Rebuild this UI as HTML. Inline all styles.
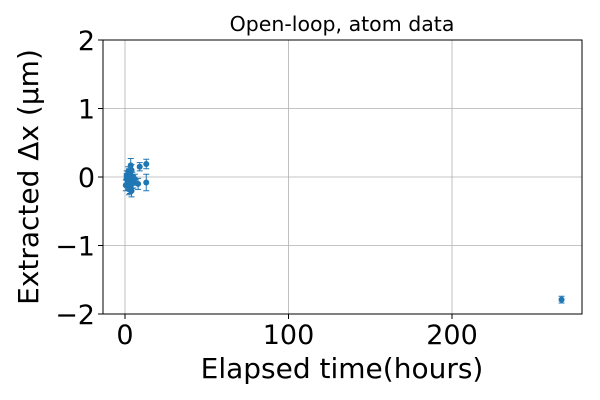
<!DOCTYPE html>
<html><head><meta charset="utf-8"><style>body{margin:0;background:#fff}svg{display:block;font-family:"DejaVu Sans","Liberation Sans",sans-serif}</style></head>
<body>
<svg id="c" width="600" height="400"></svg>
<script>
const xs=[0.5,1,1.5,2,2.5,3,3.5,4,4.5,5,1,2,3,4,5,6,8,9,13,13,267,2.5,3.5,4];
const ys=[-0.12,0.02,-0.05,-0.1,0.05,-0.15,0.17,-0.2,0.0,-0.08,-0.02,0.08,-0.12,0.1,-0.05,-0.03,-0.1,0.15,0.19,-0.08,-1.79,-0.18,0.03,-0.1];
const errs=[0.08,0.07,0.08,0.08,0.07,0.09,0.1,0.09,0.07,0.08,0.07,0.07,0.08,0.08,0.07,0.07,0.08,0.06,0.07,0.12,0.05,0.08,0.07,0.07];
const xTicks=[0,100,200];
const yTicks=[-2,-1,0,1,2];
const ns="http://www.w3.org/2000/svg",s=document.getElementById('c');
const L=103,R=582,T=40,B=314;
const X=v=>125+(v)*1.635, Y=v=>177-v*68.5;
function el(t,a,txt,fs){const e=document.createElementNS(ns,t);for(const k in a)e.setAttribute(k,a[k]);if(fs)e.style.fontSize=fs+'px';if(txt!==undefined)e.textContent=txt;s.appendChild(e);return e;}
xTicks.forEach(t=>{const g=el('line',{x1:X(t),x2:X(t),y1:T,y2:B,stroke:'#b0b0b0','stroke-width':0.8});

const k=el('line',{x1:X(t),x2:X(t),y1:B,y2:B+5,stroke:'#000'});
const l=el('text',{x:X(t),y:B+30,'text-anchor':'middle'},t,27);});
yTicks.forEach(t=>{const g=el('line',{x1:L,x2:R,y1:Y(t),y2:Y(t),stroke:'#b0b0b0','stroke-width':0.8});

const k=el('line',{x1:L-5,x2:L,y1:Y(t),y2:Y(t),stroke:'#000'});
const l=el('text',{x:L-8,y:Y(t)+10,'text-anchor':'end'},t<0?'\u2212'+(-t):t,27);});
xs.forEach((x,i)=>{const cx=X(x),y1=Y(ys[i]+errs[i]),y2=Y(ys[i]-errs[i]);
const e=el('path',{d:`M${cx},${y1}V${y2}M${cx-3},${y1}H${cx+3}M${cx-3},${y2}H${cx+3}`,stroke:'#1f77b4','stroke-width':1});

const p=el('circle',{cx:cx,cy:Y(ys[i]),r:3,fill:'#1f77b4'});});
const f=el('rect',{x:L,y:T,width:R-L,height:B-T,fill:'none',stroke:'#000','stroke-width':1});
const ti=el('text',{x:342,y:31,'text-anchor':'middle'},'Open-loop, atom data',20.5);
const xl=el('text',{x:342,y:378,'text-anchor':'middle'},'Elapsed time(hours)',28);
const yl=el('text',{x:0,y:0,'text-anchor':'middle',transform:'translate(38,177) rotate(-90)'},'Extracted Δx (μm)',28);
</script>
</body></html>
